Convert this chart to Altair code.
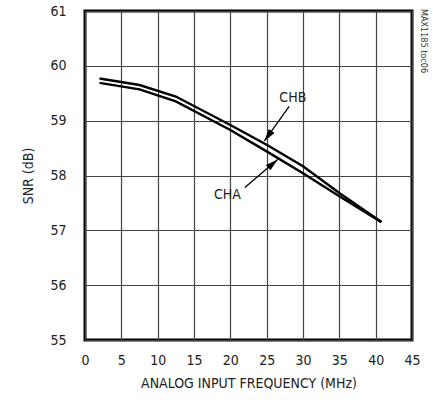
import altair as alt
import pandas as pd

# SNR vs analog input frequency, two channels
freq_mhz = [2, 7.5, 12.5, 20, 25, 30, 35, 40.8]
snr_chb = [59.77, 59.65, 59.44, 58.92, 58.56, 58.17, 57.68, 57.15]
snr_cha = [59.69, 59.57, 59.35, 58.83, 58.44, 58.04, 57.62, 57.15]

# callouts: label position, arrow start, arrow tip
labels = ["CHB", "CHA"]
label_x = [28.6, 19.6]
label_y = [59.42, 57.65]
arrow_x0 = [28.1, 22.0]
arrow_y0 = [59.26, 57.78]
arrow_x1 = [24.7, 26.5]
arrow_y1 = [58.63, 58.29]
arrow_angle = [216, 50]

x_ticks = list(range(0, 50, 5))
y_ticks = list(range(55, 62))

FONT = "DejaVu Sans Condensed, Liberation Sans, sans-serif"

rows = []
for f, b, a in zip(freq_mhz, snr_chb, snr_cha):
    rows.append({"f": f, "snr": b, "ch": "CHB"})
    rows.append({"f": f, "snr": a, "ch": "CHA"})
curves = pd.DataFrame(rows)

ann = pd.DataFrame({
    "label": labels, "lx": label_x, "ly": label_y,
    "x0": arrow_x0, "y0": arrow_y0, "x1": arrow_x1, "y1": arrow_y1,
    "angle": arrow_angle,
})
# arrowhead centre sits slightly behind the tip
ann["hx"] = ann["x1"] - 0.14 * (ann["x1"] - ann["x0"])
ann["hy"] = ann["y1"] - 0.14 * (ann["y1"] - ann["y0"])

xs = alt.Scale(domain=[0, 45], nice=False, zero=False)
ys = alt.Scale(domain=[55, 61], nice=False, zero=False)

x_axis = alt.Axis(values=x_ticks, format="d", title="ANALOG INPUT FREQUENCY (MHz)",
                  ticks=False, domain=False, labelPadding=13, titlePadding=9,
                  labelOverlap=False, labelFlush=False,
                  gridColor="#444444", gridWidth=1.2, gridOpacity=1)
y_axis = alt.Axis(values=y_ticks, format="d", title="SNR (dB)",
                  ticks=False, domain=False, labelPadding=19, titlePadding=14,
                  labelOverlap=False, labelFlush=False,
                  gridColor="#444444", gridWidth=1.2, gridOpacity=1)


def X(field):
    return alt.X(field, type="quantitative", scale=xs, axis=x_axis)


def Y(field):
    return alt.Y(field, type="quantitative", scale=ys, axis=y_axis)


lines = alt.Chart(curves).mark_line(color="black", strokeWidth=2.4).encode(
    x=X("f"), y=Y("snr"), detail="ch:N",
)

arrows = alt.Chart(ann).mark_rule(color="black", strokeWidth=1.3).encode(
    x=X("x0"), y=Y("y0"), x2="x1:Q", y2="y1:Q",
)

heads = alt.Chart(ann).mark_point(
    shape="M0,-1L0.55,1L-0.55,1Z", filled=True, color="black", opacity=1, size=160
).encode(
    x=X("hx"), y=Y("hy"), angle=alt.Angle("angle:Q", scale=None),
)

text = alt.Chart(ann).mark_text(font=FONT, fontSize=14, color="#222222").encode(
    x=X("lx"), y=Y("ly"), text="label:N",
)

tag = alt.Chart(pd.DataFrame({"t": ["MAX1185 toc06"]})).mark_text(
    font=FONT, fontSize=9, angle=90, color="#333333"
).encode(x=alt.value(339), y=alt.value(30), text="t:N")

chart = alt.layer(lines, arrows, heads, text, tag).properties(
    width=327, height=329,
    autosize=alt.AutoSizeParams(type="none"),
    padding={"left": 85, "top": 11, "right": 21, "bottom": 62},
).configure_view(
    stroke="black", strokeWidth=3,
).configure_axis(
    labelFont=FONT, titleFont=FONT, labelFontSize=14, titleFontSize=14,
    labelColor="#222222", titleColor="#222222", titleFontWeight="normal",
)

chart.save("out.html", embed_options={"renderer": "svg", "actions": False})
